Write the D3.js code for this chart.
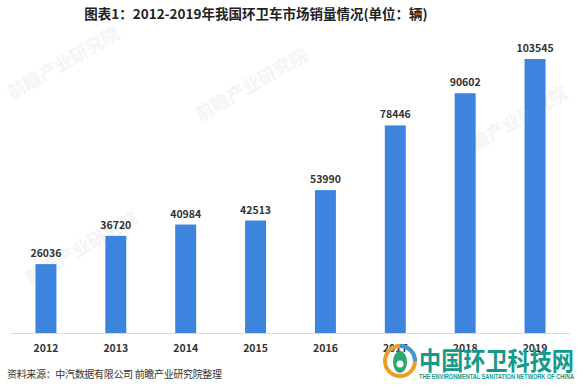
<!DOCTYPE html>
<html><head><meta charset="utf-8">
<script src="https://cdn.jsdelivr.net/npm/d3@7"></script>
<style>html,body{margin:0;padding:0;background:#fff;}svg{display:block;}</style>
</head><body><svg id="c" width="587" height="391"></svg>
<script>
const years = ["2012","2013","2014","2015","2016","2017","2018","2019"];
const sales = [26036, 36720, 40984, 42513, 53990, 78446, 90602, 103545];
const titleText = "图表1：2012-2019年我国环卫车市场销量情况(单位：辆)";
const sourceText = "资料来源：中汽数据有限公司 前瞻产业研究院整理";
const watermarkText = "前瞻产业研究院";
const logoText = "中国环卫科技网";
const logoSub = "THE ENVIRONMENTAL SANITATION NETWORK OF CHINA";

const svg = d3.select("#c");
const font = "'Microsoft YaHei','Noto Sans CJK SC',sans-serif";
const baseY = 333;

// faint watermarks
const wm = [[12,100],[200,122],[460,160],[30,285]];
svg.append("g").selectAll("text").data(wm).join("text")
  .attr("transform", d => `translate(${d[0]},${d[1]}) rotate(-30)`)
  .attr("font-family", font).attr("font-size", 18).attr("font-weight", "bold")
  .attr("fill", "#f4f4f6").text(watermarkText);

const x = d3.scaleBand().domain(years).range([11, 570]).paddingInner(0.7).paddingOuter(0.35);
const y = d3.scaleLinear().domain([0, 103545]).range([baseY, 59]);

svg.append("g").selectAll("rect").data(sales).join("rect")
  .attr("x", (d,i) => x(years[i])).attr("width", x.bandwidth())
  .attr("y", d => y(d)).attr("height", d => baseY - y(d))
  .attr("fill", "#3d84df");

svg.append("g").selectAll("text").data(sales).join("text")
  .attr("x", (d,i) => x(years[i]) + x.bandwidth()/2).attr("y", d => y(d) - 7)
  .attr("text-anchor", "middle").attr("font-family", font).attr("font-size", 10.5)
  .attr("font-weight", "bold").attr("fill", "#333").text(d => d);

const xAxis = svg.append("g").attr("transform", `translate(0,${baseY})`)
  .call(d3.axisBottom(x).tickSize(0).tickPadding(12));
xAxis.select(".domain").attr("stroke", "#d9d9d9").attr("d", "M11,0.5H570");
xAxis.selectAll("text").attr("font-family", font).attr("font-size", 10.5)
  .attr("font-weight", "bold").attr("fill", "#333");

svg.append("text").attr("x", 256).attr("y", 19).attr("text-anchor", "middle")
  .attr("font-family", font).attr("font-size", 13.5).attr("font-weight", "bold")
  .attr("fill", "#222").text(titleText);

svg.append("text").attr("x", 7).attr("y", 378)
  .attr("font-family", font).attr("font-size", 10).attr("fill", "#333")
  .attr("textLength", 215).attr("lengthAdjust", "spacing").text(sourceText);

// logo watermark
const lg = svg.append("g");
lg.append("circle").attr("cx", 400).attr("cy", 361).attr("r", 15)
  .attr("fill", "none").attr("stroke", "#e9a02a").attr("stroke-width", 4);
lg.append("path").attr("d", "M400,346 A15,15 0 0,1 415,361").attr("fill","none")
  .attr("stroke", "#3a9ad6").attr("stroke-width", 4);
lg.append("ellipse").attr("cx", 400).attr("cy", 362).attr("rx", 7).attr("ry", 11).attr("fill", "#2aa86f");
lg.append("circle").attr("cx", 400).attr("cy", 364).attr("r", 3.5).attr("fill", "#fff");
lg.append("text").attr("x", 419).attr("y", 370).attr("font-family", font)
  .attr("font-size", 25).attr("font-weight", "bold").attr("fill", "#149a8c")
  .attr("textLength", 155).attr("lengthAdjust", "spacingAndGlyphs").text(logoText);
lg.append("text").attr("x", 419).attr("y", 379).attr("font-family", "Arial, sans-serif")
  .attr("font-size", 6.5).attr("font-weight", "bold").attr("fill", "#149a8c")
  .attr("textLength", 155).attr("lengthAdjust", "spacingAndGlyphs").text(logoSub);
</script></body></html>
